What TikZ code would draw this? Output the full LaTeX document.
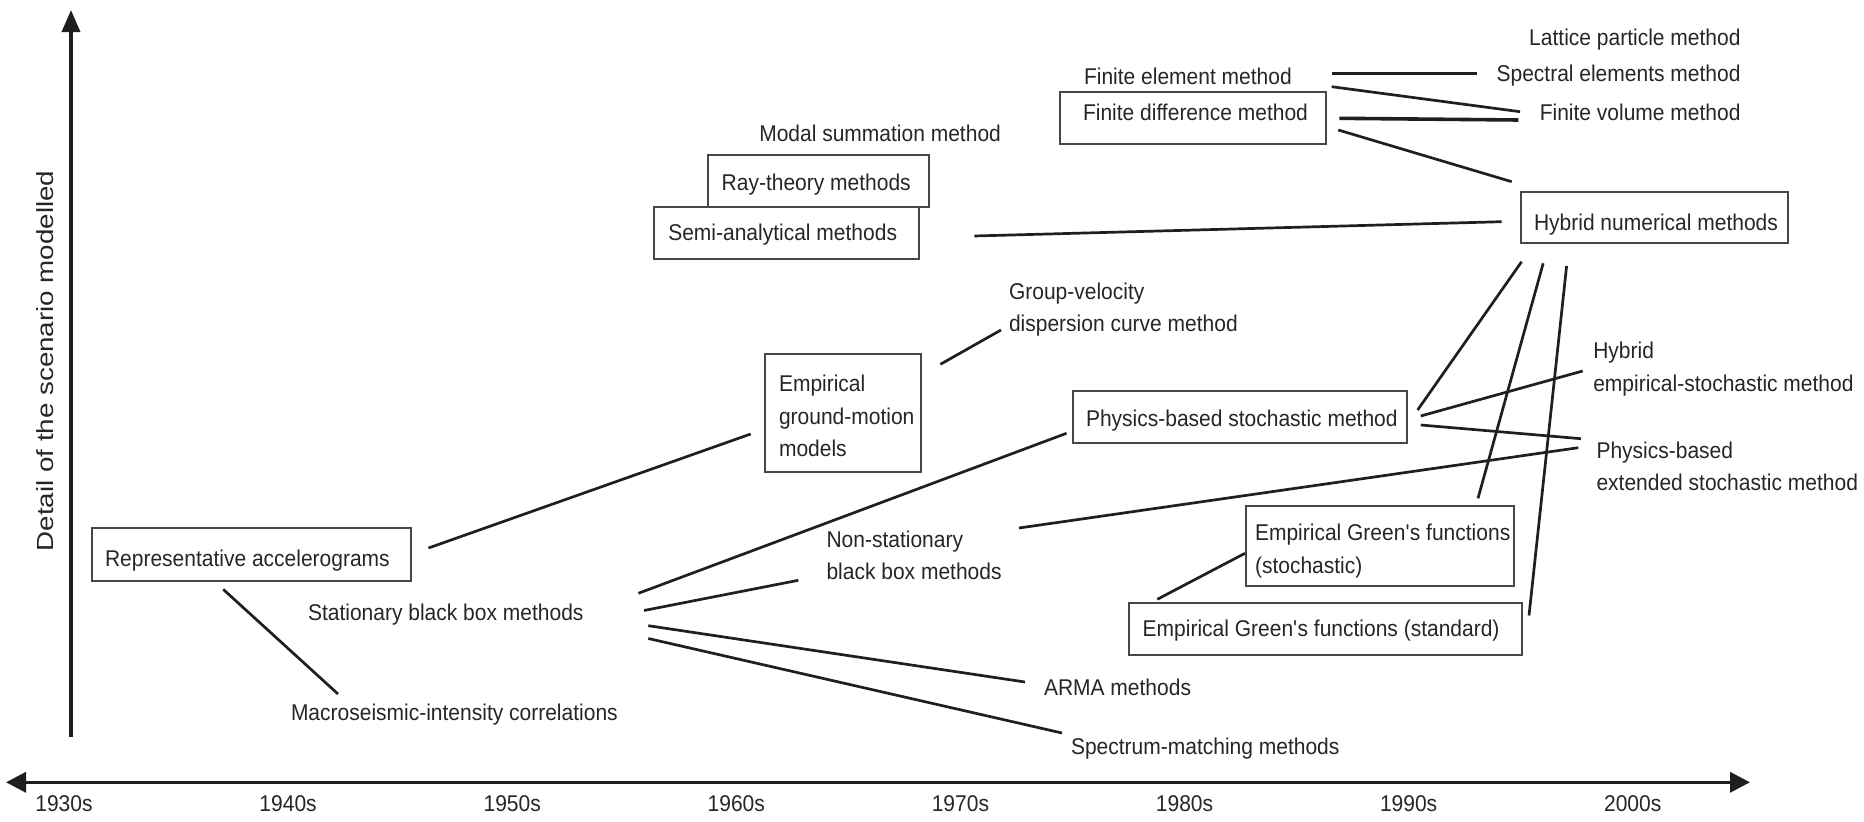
\documentclass[tikz,border=0pt]{standalone}
\usepackage{fontspec}
\setmainfont{Liberation Sans}[FakeStretch=0.921]
\newfontfamily\axisfont{Liberation Sans}[FakeStretch=1.19]
\usetikzlibrary{arrows.meta}
\begin{document}
\begin{tikzpicture}[x=1pt,y=-1pt,
  lbl/.style={inner sep=0pt, outer sep=0pt, anchor=base west, text=black!85, font=\fontsize{22.8}{32.5}\selectfont},
  mlbl/.style={lbl, anchor=north west, align=left},
  rlbl/.style={lbl, anchor=base east},
  year/.style={lbl, anchor=base},
  box/.style={draw=black!72, line width=2pt, anchor=north west, inner sep=0pt, outer sep=0pt},
  link/.style={draw=black!88, line width=2.7pt},
  axis/.style={draw=black!88, line width=3.5pt}]
\useasboundingbox (0,0) rectangle (1864,822);

% ---------- axes ----------
\coordinate (yb) at (71,737);
\coordinate (yt) at (71,10);
\coordinate (xl) at (6,782.3);
\coordinate (xr) at (1750,782.3);
\draw[axis, -{Triangle[length=22pt,width=18pt]}] (yb) -- (yt);
\draw[axis, {Triangle[length=20pt,width=20pt]}-{Triangle[length=20pt,width=20pt]}] (xl) -- (xr);
\node[rotate=90, inner sep=0pt, text=black!85, font=\axisfont\fontsize{23.3}{28}\selectfont] (ylabel) at (45,361) {Detail of the scenario modelled};
\foreach \yr [count=\i from 0] in {1930s,1940s,1950s,1960s,1970s,1980s,1990s,2000s}
  \node[year] (yr\i) at (64+224.1*\i, 811.7) {\yr};

% ---------- boxes ----------
\node[box, minimum width=319.2pt, minimum height=52.4pt] (repbox) at (91.5,528.3) {};
\node[box, minimum width=266pt, minimum height=52pt] (fdmbox) at (1060,92) {};
\node[box, minimum width=221pt, minimum height=52pt] (raybox) at (708,155) {};
\node[box, minimum width=265pt, minimum height=52pt] (semibox) at (654,207) {};
\node[box, minimum width=266.7pt, minimum height=51.6pt] (hybbox) at (1521,191.7) {};
\node[box, minimum width=156pt, minimum height=117.7pt] (gmmbox) at (765,354) {};
\node[box, minimum width=333.8pt, minimum height=52pt] (pbsbox) at (1073.4,390.7) {};
\node[box, minimum width=268pt, minimum height=80pt] (egfsbox) at (1246,506) {};
\node[box, minimum width=392.2pt, minimum height=51.7pt] (egfstdbox) at (1129.4,603.3) {};

% ---------- texts ----------
\node[rlbl] (lattice) at (1740.5,45) {Lattice particle method};
\node[rlbl] (spectral) at (1740.5,81.7) {Spectral elements method};
\node[rlbl] (fvm) at (1740.5,120) {Finite volume method};
\node[lbl] (fem) at (1084,84) {Finite element method};
\node[lbl] (fdm) at (1083,120) {Finite difference method};
\node[lbl] (modal) at (759.3,141) {Modal summation method};
\node[lbl] (ray) at (721.7,190) {Ray-theory methods};
\node[lbl] (semi) at (668.3,240) {Semi-analytical methods};
\node[lbl] (hyb) at (1534,230) {Hybrid numerical methods};
\node[mlbl] (grp) at (1009,282.6) {Group-velocity\\dispersion curve method};
\node[mlbl] (gmm) at (779,375.4) {Empirical\\ground-motion\\models};
\node[lbl] (rep) at (105,566.7) {Representative accelerograms};
\node[lbl] (stat) at (308,620) {Stationary black box methods};
\node[lbl] (macro) at (291,720) {Macroseismic-intensity correlations};
\node[mlbl] (nons) at (826.5,530.7) {Non-stationary\\black box methods};
\node[lbl] (arma) at (1044,695) {ARMA methods};
\node[lbl] (specm) at (1071,754.5) {Spectrum-matching methods};
\node[lbl] (pbs) at (1086,426.7) {Physics-based stochastic method};
\node[mlbl] (hybemp) at (1593.3,342) {Hybrid\\empirical-stochastic method};
\node[mlbl] (pbext) at (1596.5,441.7) {Physics-based\\extended stochastic method};
\node[mlbl] (egfs) at (1255,524.4) {Empirical Green\textquotesingle s functions\\(stochastic)};
\node[lbl] (egfstd) at (1142.7,636.7) {Empirical Green\textquotesingle s functions (standard)};

% ---------- connector end points ----------
\coordinate (fem-a) at (1331.7,73.3);   \coordinate (spec-a) at (1476.7,73.3);
\coordinate (fem-b) at (1331.7,86.7);   \coordinate (fvm-a) at (1520,111.7);
\coordinate (fdm-a) at (1339.3,118.3);  \coordinate (fvm-b) at (1518.3,120);
\coordinate (fdm-b) at (1338.3,130);    \coordinate (hyb-a) at (1511.7,181.7);
\coordinate (semi-a) at (974.3,236);    \coordinate (hyb-b) at (1501.7,221.7);
\coordinate (gmm-a) at (940.4,364.3);   \coordinate (grp-a) at (1001,330);
\coordinate (rep-a) at (428.5,548);     \coordinate (gmm-b) at (750.7,434);
\coordinate (rep-b) at (223.2,589.3);   \coordinate (mac-a) at (338,694);
\coordinate (stat-a) at (638.4,593.3);  \coordinate (pbs-a) at (1066.5,433.3);
\coordinate (stat-b) at (644,610.5);    \coordinate (nons-a) at (798.3,580.3);
\coordinate (stat-c) at (648.3,625.7);  \coordinate (arma-a) at (1025,682);
\coordinate (stat-d) at (648.3,638.5);  \coordinate (specm-a) at (1062,733);
\coordinate (nons-b) at (1019,528);     \coordinate (pbext-a) at (1578.3,447.7);
\coordinate (pbs-b) at (1420.7,416);    \coordinate (hybemp-a) at (1582.7,371);
\coordinate (pbs-c) at (1420.7,425);    \coordinate (pbext-b) at (1581,438.7);
\coordinate (pbs-d) at (1417.6,410);    \coordinate (hyb-c) at (1521.6,261.7);
\coordinate (hyb-d) at (1543.2,263.3);  \coordinate (egfs-a) at (1478,498.3);
\coordinate (hyb-e) at (1566.6,266);    \coordinate (egfstd-a) at (1529,615.5);
\coordinate (egfstd-b) at (1157.3,599.3); \coordinate (egfs-b) at (1245,553.3);

% ---------- connectors ----------
\draw[link] (fem-a) -- (spec-a);
\draw[link] (fem-b) -- (fvm-a);
\draw[link, line width=3.6pt] (fdm-a) -- (fvm-b);
\draw[link] (fdm-b) -- (hyb-a);
\draw[link] (semi-a) -- (hyb-b);
\draw[link] (gmm-a) -- (grp-a);
\draw[link] (rep-a) -- (gmm-b);
\draw[link] (rep-b) -- (mac-a);
\draw[link] (stat-a) -- (pbs-a);
\draw[link] (stat-b) -- (nons-a);
\draw[link] (stat-c) -- (arma-a);
\draw[link] (stat-d) -- (specm-a);
\draw[link] (nons-b) -- (pbext-a);
\draw[link] (pbs-b) -- (hybemp-a);
\draw[link] (pbs-c) -- (pbext-b);
\draw[link] (pbs-d) -- (hyb-c);
\draw[link] (hyb-d) -- (egfs-a);
\draw[link] (hyb-e) -- (egfstd-a);
\draw[link] (egfstd-b) -- (egfs-b);
\end{tikzpicture}
\end{document}
